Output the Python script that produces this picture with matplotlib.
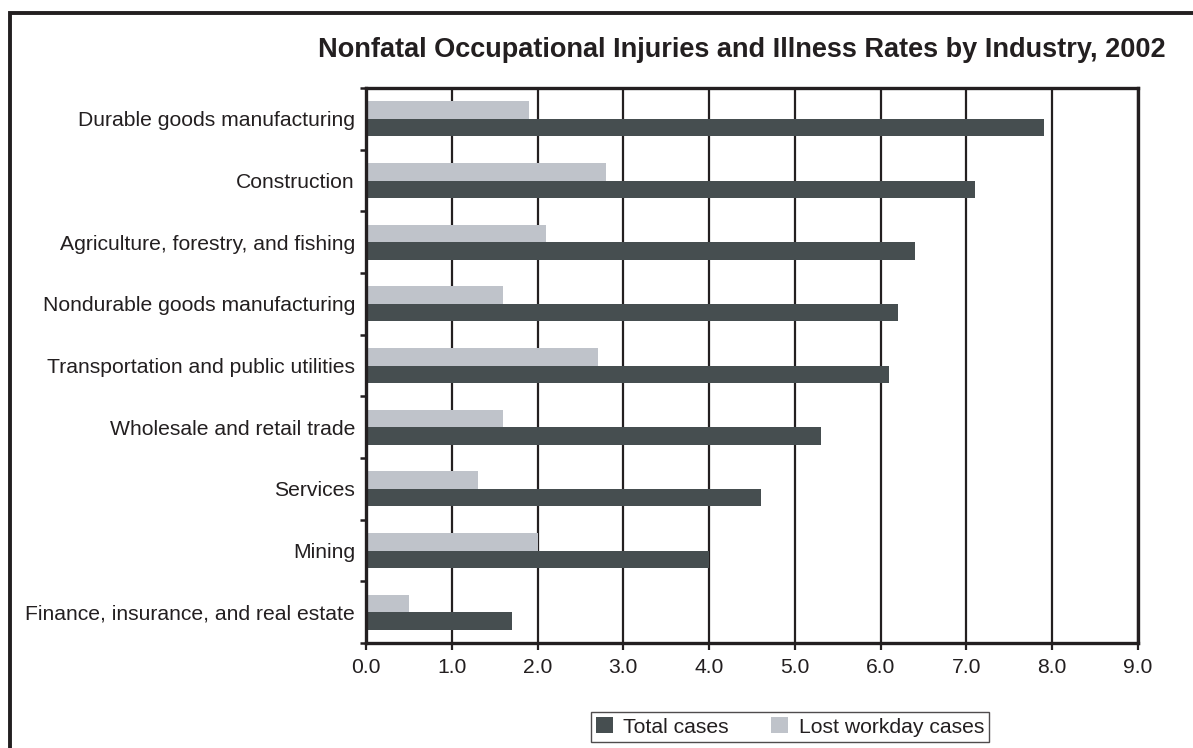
import numpy as np
import matplotlib
matplotlib.use("Agg")
import matplotlib.pyplot as plt
from matplotlib.patches import Patch, Rectangle

plt.rcParams["font.family"] = ["Liberation Sans", "DejaVu Sans"]

industries = [
    "Durable goods manufacturing",
    "Construction",
    "Agriculture, forestry, and fishing",
    "Nondurable goods manufacturing",
    "Transportation and public utilities",
    "Wholesale and retail trade",
    "Services",
    "Mining",
    "Finance, insurance, and real estate",
]
total_cases = [7.9, 7.1, 6.4, 6.2, 6.1, 5.3, 4.6, 4.0, 1.7]
lost_workday = [1.9, 2.8, 2.1, 1.6, 2.7, 1.6, 1.3, 2.0, 0.5]
x_ticks = [0, 1, 2, 3, 4, 5, 6, 7, 8, 9]

dark = "#464e50"
light = "#bfc3ca"
ink = "#231f20"
fs = 15.2

W, H = 1193, 748
fig = plt.figure(figsize=(W / 100, H / 100), dpi=100)
ax = fig.add_axes([366 / W, 1 - 643 / H, (1138 - 366) / W, (643 - 88) / H])

y = np.arange(len(industries))
h = 0.285
ax.barh(y - h / 2, lost_workday, height=h, color=light, zorder=3)
ax.barh(y + h / 2, total_cases, height=h, color=dark, zorder=3)

ax.set_xlim(0, 9)
ax.set_ylim(len(industries) - 0.5, -0.5)
ax.set_xticks(x_ticks)
ax.set_xticklabels([f"{v:.1f}" for v in x_ticks], fontsize=fs, color=ink)
ax.xaxis.grid(True, color=ink, linewidth=1.6, zorder=1)

# labels at category centres, small ticks at the boundaries
ax.set_yticks(np.arange(len(industries) + 1) - 0.5)
ax.set_yticklabels([])
ax.set_yticks(y, minor=True)
ax.set_yticklabels(industries, minor=True, fontsize=fs, color=ink)
ax.tick_params(axis="y", which="minor", length=0, pad=8)
ax.tick_params(axis="y", which="major", length=4, width=1.8, color=ink)
ax.tick_params(axis="x", length=5, width=1.6, color=ink, pad=6)

for s in ax.spines.values():
    s.set_color(ink)
    s.set_linewidth(2.4)
    s.set_zorder(4)

fig.text(742 / W, 1 - 50 / H,
         "Nonfatal Occupational Injuries and Illness Rates by Industry, 2002",
         ha="center", va="center", fontsize=19.5, fontweight="bold", color=ink)

handles = [Patch(facecolor=dark, label="Total cases"),
           Patch(facecolor=light, label="Lost workday cases")]
leg = fig.legend(handles=handles, loc="center", bbox_to_anchor=(790 / W, 1 - 727 / H),
                 ncol=2, fontsize=fs, frameon=True, fancybox=False,
                 handlelength=0.8, handleheight=0.8, handletextpad=0.5,
                 columnspacing=2.0, borderpad=0.25, labelcolor=ink)
leg.get_frame().set_edgecolor(ink)
leg.get_frame().set_linewidth(1.0)

# outer page frame (runs off the right and bottom edges)
fig.patches.append(Rectangle((9.5 / W, -0.2), 1.2, 1.2 - 12.5 / H,
                             transform=fig.transFigure, fill=False,
                             edgecolor=ink, linewidth=2.8))

fig.savefig("out.png", dpi=100)
